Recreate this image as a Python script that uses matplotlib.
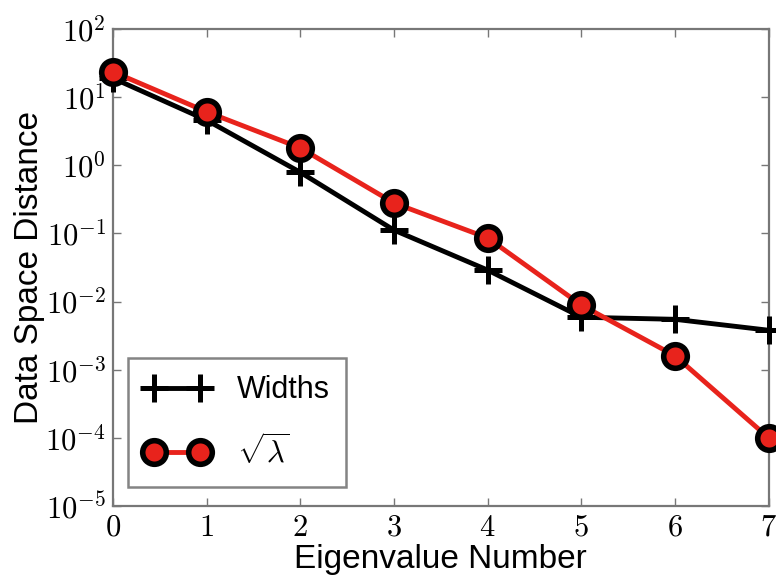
import numpy as np
import matplotlib
matplotlib.use("Agg")
import matplotlib.pyplot as plt

plt.rcParams['mathtext.fontset'] = 'cm'
plt.rcParams['font.family'] = ['Liberation Sans', 'DejaVu Sans']

# eigenvalue index vs. data-space distance
eig_num = [0, 1, 2, 3, 4, 5, 6, 7]
widths = [19.0, 4.6, 0.79, 0.112, 0.029, 0.0059, 0.0055, 0.0038]
sqrt_lam = [23.6, 6.1, 1.8, 0.28, 0.086, 0.0089, 0.0016, 0.0001]

fig = plt.figure(figsize=(7.76, 5.81), dpi=100)
ax = fig.add_axes([0.1456, 0.129, 0.845, 0.821])

ax.semilogy(eig_num, widths, color='black', lw=3.5, marker='+',
            ms=20, mew=3.6, label='Widths', clip_on=False, zorder=3)
ax.semilogy(eig_num, sqrt_lam, color='#e8231c', lw=3.5, marker='o',
            ms=17, mfc='#e8231c', mec='black', mew=4,
            label=r'$\sqrt{\lambda}$', clip_on=False, zorder=4)

ax.set_xlim(0, 7)
ax.set_ylim(1e-5, 1e2)
ax.set_xticks(eig_num)
ax.set_xticklabels([rf'${v}$' for v in eig_num])
ax.set_yticks([10.0 ** k for k in range(-5, 3)])
ax.set_yticklabels([rf'$10^{{{k}}}$' for k in range(-5, 3)])

for s in ax.spines.values():
    s.set_color('#777777')
    s.set_linewidth(1.6)
ax.tick_params(which='both', direction='in', top=True, right=True,
               color='#777777', labelsize=22, pad=5)
ax.tick_params(which='major', length=6, width=1)
ax.tick_params(which='minor', length=3, width=0.8)

ax.set_xlabel('Eigenvalue Number', fontsize=24, labelpad=1)
ax.set_ylabel('Data Space Distance', fontsize=24, labelpad=0)

leg = ax.legend(loc='lower left', numpoints=2, fontsize=22, fancybox=False,
                borderpad=0.55, handlelength=2.1, labelspacing=0.95,
                handletextpad=0.9, borderaxespad=0,
                bbox_to_anchor=(0.023, 0.04))
leg.get_frame().set_edgecolor('#666666')
leg.get_frame().set_linewidth(1.8)

fig.savefig('out.png', dpi=100)
